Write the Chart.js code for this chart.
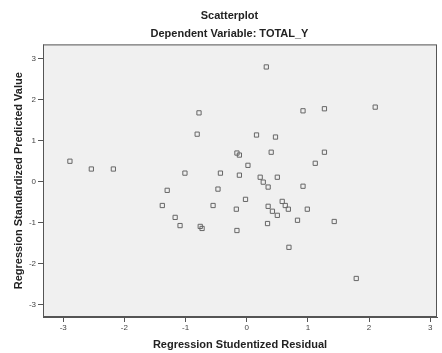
<!DOCTYPE html>
<html>
<head>
<meta charset="utf-8">
<script src="https://cdn.jsdelivr.net/npm/chart.js@4/dist/chart.umd.min.js"></script>
<style>
  html, body { margin: 0; padding: 0; background: #fff; }
  #wrap { width: 442px; height: 353px; }
</style>
</head>
<body>
<div id="wrap"><canvas id="scatter" width="442" height="353"></canvas></div>
<script>
// residuals (x) and predicted values (y)
const residuals = [
  -2.89, -2.54, -2.18, -1.30, -1.38, -1.17, -1.09, -1.01, -0.73, -0.76,
  -0.78, -0.81, -0.47, -0.43, -0.55, -0.17, -0.16, -0.12, -0.12, -0.16,
  -0.02, 0.02, 0.16, 0.32, 0.22, 0.27, 0.35, 0.40, 0.47, 0.50,
  0.35, 0.42, 0.50, 0.58, 0.63, 0.68, 0.83, 0.34, 0.69, 0.92,
  1.27, 2.10, 0.92, 0.99, 1.12, 1.27, 1.43, 1.79
];
const predicted = [
  0.50, 0.31, 0.31, -0.21, -0.58, -0.87, -1.07, 0.21, -1.14, -1.09,
  1.68, 1.16, -0.18, 0.21, -0.58, -0.67, 0.70, 0.65, 0.16, -1.19,
  -0.43, 0.40, 1.14, 2.80, 0.11, -0.01, -0.13, 0.72, 1.09, 0.11,
  -0.60, -0.72, -0.82, -0.48, -0.58, -0.67, -0.94, -1.02, -1.60, 1.73,
  1.78, 1.82, -0.11, -0.67, 0.45, 0.72, -0.97, -2.36
];
const tickValues = [-3, -2, -1, 0, 1, 2, 3];

const points = residuals.map((x, i) => ({ x: x, y: predicted[i] }));

// grey plot panel with a frame, like the SPSS output
const panelPlugin = {
  id: 'panel',
  beforeDatasetsDraw(chart) {
    const { ctx, chartArea } = chart;
    ctx.save();
    ctx.fillStyle = '#f0f0f0';
    ctx.fillRect(chartArea.left, chartArea.top, chartArea.right - chartArea.left, chartArea.bottom - chartArea.top);
    ctx.restore();
  },
  afterDatasetsDraw(chart) {
    const { ctx, chartArea } = chart;
    ctx.save();
    ctx.strokeStyle = '#555';
    ctx.lineWidth = 1;
    ctx.strokeRect(chartArea.left + 0.5, chartArea.top + 0.5, chartArea.right - chartArea.left - 1, chartArea.bottom - chartArea.top - 1);
    ctx.restore();
  }
};

const boldFont = { family: 'Liberation Sans, Arial, sans-serif', size: 11, weight: 'bold' };

new Chart(document.getElementById('scatter').getContext('2d'), {
  type: 'scatter',
  data: {
    datasets: [{
      data: points,
      pointStyle: 'rect',
      pointRadius: 3,
      borderColor: '#666',
      borderWidth: 1,
      backgroundColor: 'rgba(0,0,0,0)'
    }]
  },
  options: {
    responsive: false,
    animation: false,
    layout: { padding: { left: 17, right: 0, top: 0, bottom: 0 } },
    plugins: {
      legend: { display: false },
      tooltip: { enabled: false },
      title: {
        display: true,
        text: 'Scatterplot',
        color: '#222',
        font: boldFont,
        padding: { top: 9, bottom: 2 }
      },
      subtitle: {
        display: true,
        text: 'Dependent Variable: TOTAL_Y',
        color: '#222',
        font: boldFont,
        padding: { top: 3, bottom: 4 }
      }
    },
    scales: {
      x: {
        type: 'linear',
        min: -3.33,
        max: 3.11,
        afterBuildTicks: (scale) => { scale.ticks = tickValues.map(v => ({ value: v })); },
        afterFit: (scale) => { scale.height = 36; },
        grid: { drawOnChartArea: false, tickLength: 5, color: '#555' },
        border: { color: '#555' },
        ticks: { color: '#444', font: { size: 8 }, padding: 1, maxRotation: 0 },
        title: {
          display: true,
          text: 'Regression Studentized Residual',
          color: '#222',
          font: boldFont,
          padding: { top: 0, bottom: 1 }
        }
      },
      y: {
        type: 'linear',
        min: -3.3,
        max: 3.35,
        afterBuildTicks: (scale) => { scale.ticks = tickValues.map(v => ({ value: v })); },
        afterFit: (scale) => { scale.width = 26; },
        grid: { drawOnChartArea: false, tickLength: 5, color: '#555' },
        border: { color: '#555' },
        ticks: { color: '#444', font: { size: 8 }, padding: 2 },
        title: {
          display: true,
          text: 'Regression Standardized Predicted Value',
          color: '#222',
          font: boldFont,
          padding: { top: -5, bottom: 0 }
        }
      }
    }
  },
  plugins: [panelPlugin]
});
</script>
</body>
</html>
